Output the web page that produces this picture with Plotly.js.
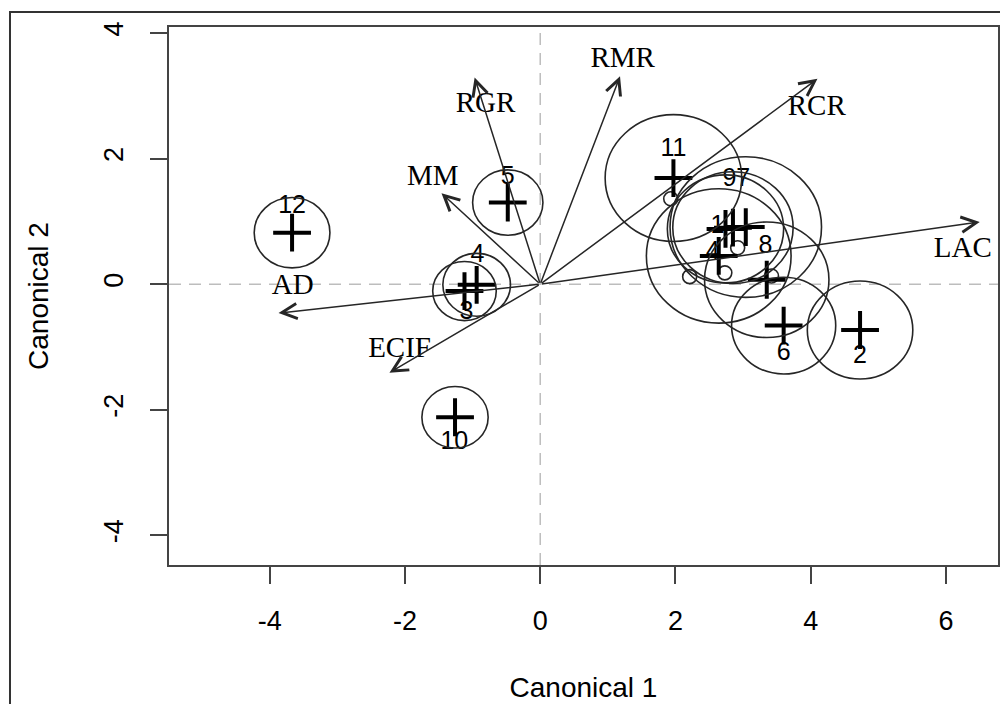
<!DOCTYPE html>
<html>
<head>
<meta charset="utf-8">
<script src="https://cdn.plot.ly/plotly-3.0.1.min.js"></script>
<style>
  html, body { margin: 0; padding: 0; background: #fff; }
  #chart { width: 1000px; height: 704px; }
</style>
</head>
<body>
<div id="chart"></div>
<script>
// ---- Group means on the canonical axes ----
var groupLabels = ["12", "5", "4", "3", "10", "11", "9", "7", "1", "4", "8", "6", "2"];
var groupCan1   = [-3.67, -0.48, -0.94, -1.12, -1.26, 1.97, 2.85, 3.04, 2.74, 2.64, 3.35, 3.60, 4.73];
var groupCan2   = [ 0.82,  1.30, -0.01, -0.11, -2.12, 1.69, 0.90, 0.91, 0.88, 0.45, 0.07, -0.66, -0.73];
var groupRadius = [ 0.56,  0.52,  0.50,  0.47,  0.49, 1.01, 0.89, 1.12, 0.86, 1.07, 0.92, 0.77, 0.78];
// label anchor points (canonical units)
var groupLabelCan1 = [-3.67, -0.48, -0.93, -1.09, -1.27, 1.97, 2.80, 3.00, 2.62, 2.55, 3.33, 3.60, 4.73];
var groupLabelCan2 = [ 1.23,  1.69,  0.45, -0.46, -2.53, 2.14, 1.66, 1.66, 0.92, 0.50, 0.59, -1.11, -1.16];

// ---- Small open points ----
var pointCan1 = [1.93, 2.92, 2.21, 2.73, 3.42];
var pointCan2 = [1.36, 0.58, 0.12, 0.18, 0.13];

// ---- Structure vectors ----
var vecNames = ["RGR", "MM", "AD", "ECIF", "RMR", "RCR", "LAC"];
var vecCan1  = [-0.97, -1.46, -3.87, -2.23, 1.18, 4.10, 6.50];
var vecCan2  = [ 3.29,  1.45, -0.46, -1.41, 3.31, 3.27, 0.99];
var vecLabelCan1 = [-0.81, -1.59, -3.66, -2.08, 1.22, 4.09, 6.25];
var vecLabelCan2 = [ 2.85,  1.69, -0.04, -1.05, 3.57, 2.81, 0.55];

// ---- Axes ----
var xTicks = [-4, -2, 0, 2, 4, 6];
var yTicks = [-4, -2, 0, 2, 4];

var ink = "#262626";

var shapes = [];
// dashed reference lines through origin
shapes.push({type: "line", xref: "x", yref: "paper", x0: 0, x1: 0, y0: 0, y1: 1,
  line: {color: "#bdbdbd", width: 1.5, dash: "12px,8px"}, layer: "below"});
shapes.push({type: "line", xref: "paper", yref: "y", x0: 0, x1: 1, y0: 0, y1: 0,
  line: {color: "#bdbdbd", width: 1.5, dash: "12px,8px"}, layer: "below"});
// confidence circles
for (var i = 0; i < groupCan1.length; i++) {
  shapes.push({type: "circle", xref: "x", yref: "y",
    x0: groupCan1[i] - groupRadius[i], x1: groupCan1[i] + groupRadius[i],
    y0: groupCan2[i] - groupRadius[i], y1: groupCan2[i] + groupRadius[i],
    line: {color: ink, width: 1.6}});
}
// outer figure frame
shapes.push({type: "rect", xref: "paper", yref: "paper",
  x0: -0.1918, x1: 1.02, y0: -0.32, y1: 1.0279,
  line: {color: "#333", width: 2}});

var annotations = [];
for (var j = 0; j < vecNames.length; j++) {
  annotations.push({x: vecCan1[j], y: vecCan2[j], ax: 0, ay: 0,
    xref: "x", yref: "y", axref: "x", ayref: "y", text: "",
    showarrow: true, arrowhead: 5, arrowsize: 2, arrowwidth: 1.5, arrowcolor: ink});
}

var traces = [
  {type: "scatter", mode: "markers", x: pointCan1, y: pointCan2, hoverinfo: "skip",
   marker: {symbol: "circle-open", size: 14, color: ink, line: {width: 1.6, color: ink}}},
  {type: "scatter", mode: "markers", x: groupCan1, y: groupCan2, hoverinfo: "skip",
   marker: {symbol: "cross-thin-open", size: 27, color: "#000", line: {width: 4, color: "#000"}}},
  {type: "scatter", mode: "text", x: groupLabelCan1, y: groupLabelCan2, text: groupLabels,
   textposition: "middle center", hoverinfo: "skip", cliponaxis: true,
   textfont: {family: "Liberation Sans, Arial, sans-serif", size: 25, color: "#000"}},
  {type: "scatter", mode: "text", x: vecLabelCan1, y: vecLabelCan2, text: vecNames,
   textposition: "middle center", hoverinfo: "skip", cliponaxis: true,
   textfont: {family: "Liberation Serif, Times New Roman, serif", size: 29, color: "#000"}}
];

var layout = {
  width: 1000, height: 704,
  margin: {l: 169, r: 2, t: 27, b: 139},
  paper_bgcolor: "#fff", plot_bgcolor: "#fff",
  showlegend: false,
  font: {family: "Liberation Sans, Arial, sans-serif", color: "#000"},
  xaxis: {
    range: [-5.49, 6.77], tickvals: xTicks, ticktext: xTicks.map(String),
    ticks: "outside", ticklen: 17, tickwidth: 2, tickcolor: "#444",
    showline: true, linecolor: "#444", linewidth: 2, mirror: true,
    showgrid: false, zeroline: false, ticklabelstandoff: 14,
    tickfont: {size: 27, color: "#000"},
    title: {text: "Canonical 1", font: {size: 28, color: "#000"}, standoff: 42}
  },
  yaxis: {
    range: [-4.473, 4.096], tickvals: yTicks, ticktext: yTicks.map(String),
    ticks: "outside", ticklen: 17, tickwidth: 2, tickcolor: "#444",
    showline: true, linecolor: "#444", linewidth: 2, mirror: true,
    showgrid: false, zeroline: false, tickangle: -90, ticklabelstandoff: 16,
    tickfont: {size: 27, color: "#000"},
    title: {text: "Canonical 2", font: {size: 28, color: "#000"}, standoff: 42}
  },
  shapes: shapes,
  annotations: annotations
};

Plotly.newPlot("chart", traces, layout, {displayModeBar: false, staticPlot: true});
</script>
</body>
</html>
